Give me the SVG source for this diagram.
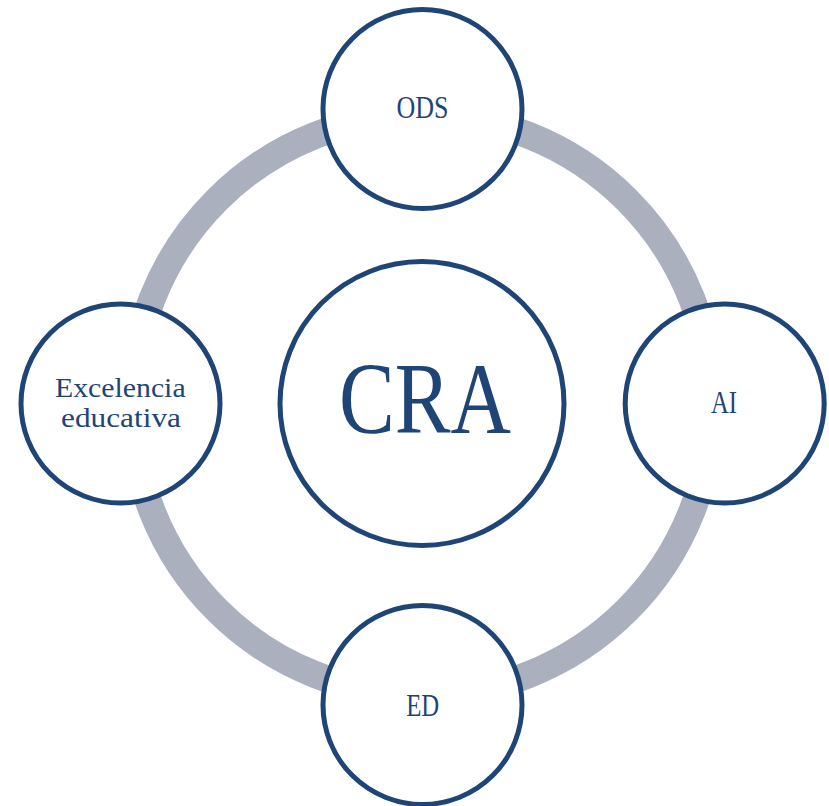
<svg xmlns="http://www.w3.org/2000/svg" width="829" height="806" viewBox="0 0 829 806">
<style>
.ring{fill:none;stroke:#ABB0BE;stroke-width:27}
.node{fill:#FFFFFF;stroke:#1F4576;stroke-width:5}
.lbl{font-family:"Liberation Serif","Times New Roman",serif;fill:#1F4576;text-anchor:middle}
.s{font-size:31px}
.m{font-size:28px}
.big{font-size:101px}
</style>
<rect width="829" height="806" fill="#FFFFFF"/>
<g id="connectors">
<circle class="ring" cx="422" cy="405" r="290"/>
</g>
<g id="node-cra">
<circle class="node" cx="422" cy="403.5" r="142"/>
<text class="lbl big" x="425" y="433" textLength="172" lengthAdjust="spacingAndGlyphs">CRA</text>
</g>
<g id="node-ods">
<circle class="node" cx="422.5" cy="109" r="99.5"/>
<text class="lbl s" x="422.5" y="118" textLength="52" lengthAdjust="spacingAndGlyphs">ODS</text>
</g>
<g id="node-ai">
<circle class="node" cx="724.7" cy="403.5" r="99.5"/>
<text class="lbl s" x="724" y="413" textLength="26" lengthAdjust="spacingAndGlyphs">AI</text>
</g>
<g id="node-ed">
<circle class="node" cx="422.5" cy="705" r="99.5"/>
<text class="lbl s" x="422.7" y="715.5" textLength="33" lengthAdjust="spacingAndGlyphs">ED</text>
</g>
<g id="node-excelencia">
<circle class="node" cx="120.5" cy="403.5" r="99.5"/>
<text class="lbl m" x="120.3" y="396.8" textLength="130.7" lengthAdjust="spacingAndGlyphs">Excelencia</text>
<text class="lbl m" x="121" y="427.3" textLength="120" lengthAdjust="spacingAndGlyphs">educativa</text>
</g>
</svg>
